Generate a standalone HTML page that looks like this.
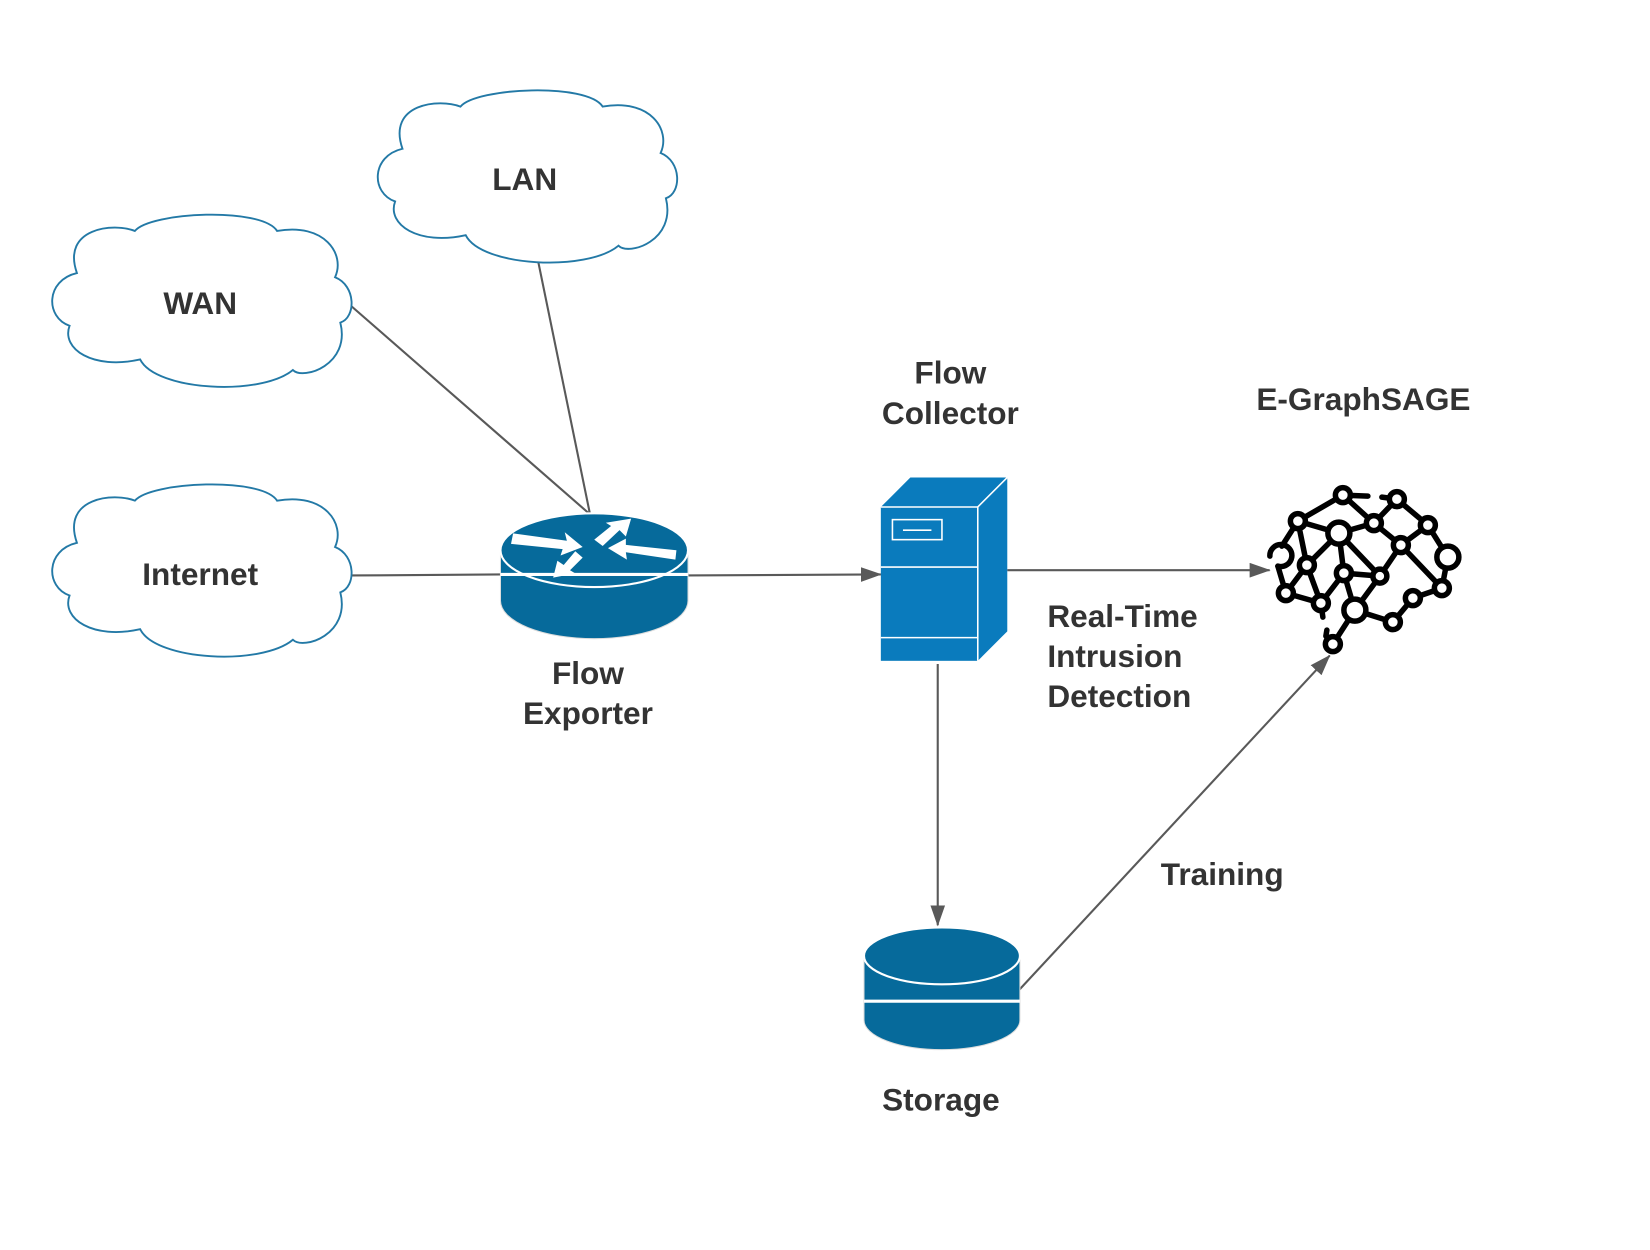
<!DOCTYPE html>
<html><head><meta charset="utf-8"><style>
html,body{margin:0;padding:0;background:#fff;}
svg{display:block;}
text{font-family:"Liberation Sans",sans-serif;font-weight:bold;fill:#333;font-size:30px;}
</style></head><body>
<svg width="1650" height="1250" viewBox="0 0 1566 1186" xmlns="http://www.w3.org/2000/svg">
<defs>
<path id="cloud" d="M25,58 C10,15 60,10 80,18 C95,0 200,-5 215,18 C260,10 280,40 270,62 C290,70 290,100 275,105 C285,145 240,160 230,150 C200,175 100,170 85,140 C40,150 10,130 18,108 C-5,100 -5,65 25,58 Z" fill="#fff" stroke="#2379a6" stroke-width="1.8"/>
<marker id="arb" markerWidth="20" markerHeight="14" refX="19" refY="7" orient="auto" markerUnits="userSpaceOnUse"><path d="M0,0 L20,7 L0,14 Z" fill="#595959"/></marker>
</defs>
<rect width="1566" height="1186" fill="#fff"/>
<g stroke="#595959" stroke-width="2" fill="none">
<line x1="333" y1="290" x2="560" y2="488"/>
<line x1="511" y1="249" x2="560" y2="488"/>
<line x1="333" y1="546" x2="475" y2="545"/>
<line x1="652" y1="546" x2="836" y2="545" marker-end="url(#arb)"/>
<line x1="956" y1="541" x2="1205" y2="541" marker-end="url(#arb)"/>
<line x1="890" y1="630" x2="890" y2="878" marker-end="url(#arb)"/>
<line x1="962" y1="945" x2="1262" y2="622" marker-end="url(#arb)"/>
</g>
<use href="#cloud" transform="translate(357,83)"/>
<use href="#cloud" transform="translate(48,201)"/>
<use href="#cloud" transform="translate(48,457)"/>
<text x="498" y="180" text-anchor="middle">LAN</text>
<text x="190" y="298" text-anchor="middle">WAN</text>
<text x="190" y="555" text-anchor="middle">Internet</text>
<g>
<path d="M475,522 L475,570 A89,36 0 0 0 653,570 L653,522 Z" fill="#066a9b" stroke="#ddd" stroke-width="1"/>
<ellipse cx="564" cy="522" rx="89" ry="35" fill="#066a9b" stroke="#fff" stroke-width="2"/>
<line x1="475" y1="545" x2="653" y2="545" stroke="#fff" stroke-width="3"/>
<g fill="#fff">
<polygon points="487,506 538,513 536,505 553,519 532,527 534,521 485,516"/>
<polygon points="564,512 580,499 575,496 599,492 594,509 588,503 572,518"/>
<polygon points="641,531 594,524 595,531 577,520 594,511 594,517 642,522"/>
<polygon points="553,529 541,541 546,544 525,548 529,532 535,536 546,523"/>
</g>
</g>
<g>
<polygon points="836,481 864,453 956,453 928,481" fill="#0a7bbd"/>
<polygon points="928,481 956,453 956,599 928,627" fill="#0a7bbd"/>
<rect x="836" y="481" width="92" height="146" fill="#0a7bbd"/>
<g stroke="#fff" stroke-width="1.5" fill="none">
<line x1="836" y1="481" x2="928" y2="481"/>
<line x1="928" y1="481" x2="956" y2="453"/>
<line x1="928" y1="481" x2="928" y2="627"/>
<line x1="836" y1="538" x2="928" y2="538"/>
<line x1="836" y1="605" x2="928" y2="605"/>
<rect x="847" y="493" width="47" height="19"/>
<line x1="857" y1="503" x2="884" y2="503"/>
</g>
</g>
<g>
<path d="M820,907 L820,968 A74,28 0 0 0 968,968 L968,907 Z" fill="#066a9b" stroke="#ddd" stroke-width="1"/>
<ellipse cx="894" cy="907" rx="74" ry="27" fill="#066a9b" stroke="#fff" stroke-width="2"/>
<line x1="820" y1="950" x2="968" y2="950" stroke="#fff" stroke-width="3"/>
</g>
<g transform="scale(0.949)" stroke="#000" stroke-width="5.5" fill="#fff" stroke-linecap="round">
<g fill="none">
<line x1="1343" y1="495" x2="1298" y2="521"/>
<line x1="1343" y1="495" x2="1368" y2="496"/>
<line x1="1382" y1="497" x2="1397" y2="499"/>
<line x1="1343" y1="495" x2="1374" y2="523"/>
<line x1="1397" y1="499" x2="1374" y2="523"/>
<line x1="1397" y1="499" x2="1428" y2="525"/>
<line x1="1298" y1="521" x2="1339" y2="533"/>
<line x1="1339" y1="533" x2="1374" y2="523"/>
<line x1="1298" y1="521" x2="1307" y2="565"/>
<line x1="1339" y1="533" x2="1307" y2="565"/>
<line x1="1339" y1="533" x2="1344" y2="573"/>
<line x1="1339" y1="533" x2="1380" y2="576"/>
<line x1="1374" y1="523" x2="1401" y2="545"/>
<line x1="1428" y1="525" x2="1401" y2="545"/>
<line x1="1428" y1="525" x2="1448" y2="557"/>
<line x1="1401" y1="545" x2="1380" y2="576"/>
<line x1="1401" y1="545" x2="1442" y2="588"/>
<line x1="1448" y1="557" x2="1442" y2="588"/>
<line x1="1298" y1="521" x2="1282" y2="546"/>
<line x1="1278" y1="566" x2="1286" y2="593"/>
<line x1="1307" y1="565" x2="1286" y2="593"/>
<line x1="1307" y1="565" x2="1321" y2="603"/>
<line x1="1344" y1="573" x2="1380" y2="576"/>
<line x1="1344" y1="573" x2="1321" y2="603"/>
<line x1="1344" y1="573" x2="1355" y2="610"/>
<line x1="1380" y1="576" x2="1355" y2="610"/>
<line x1="1355" y1="610" x2="1393" y2="622"/>
<line x1="1393" y1="622" x2="1413" y2="598"/>
<line x1="1413" y1="598" x2="1442" y2="588"/>
<line x1="1355" y1="610" x2="1333" y2="644"/>
<line x1="1286" y1="593" x2="1321" y2="603"/>
<line x1="1321" y1="603" x2="1323" y2="617"/>
<line x1="1327" y1="630" x2="1326" y2="636"/>
<path d="M1270,556 A11,11 0 1 1 1278,566"/>
</g>
<circle cx="1343" cy="495" r="7.5"/>
<circle cx="1397" cy="499" r="7.5"/>
<circle cx="1298" cy="521" r="7.5"/>
<circle cx="1339" cy="533" r="11"/>
<circle cx="1374" cy="523" r="7.5"/>
<circle cx="1428" cy="525" r="7.5"/>
<circle cx="1401" cy="545" r="7.5"/>
<circle cx="1448" cy="557" r="11"/>
<circle cx="1307" cy="565" r="7.5"/>
<circle cx="1344" cy="573" r="7.5"/>
<circle cx="1380" cy="576" r="7"/>
<circle cx="1286" cy="593" r="7.5"/>
<circle cx="1321" cy="603" r="7.5"/>
<circle cx="1355" cy="610" r="11"/>
<circle cx="1413" cy="598" r="7.5"/>
<circle cx="1442" cy="588" r="7.5"/>
<circle cx="1393" cy="622" r="7.5"/>
<circle cx="1333" cy="644" r="7.5"/>
</g>
<text x="558" y="649" text-anchor="middle">Flow</text>
<text x="558" y="687" text-anchor="middle">Exporter</text>
<text x="902" y="364" text-anchor="middle">Flow</text>
<text x="902" y="402" text-anchor="middle">Collector</text>
<text x="1294" y="389" text-anchor="middle">E-GraphSAGE</text>
<text x="994" y="595">Real-Time</text>
<text x="994" y="633">Intrusion</text>
<text x="994" y="671">Detection</text>
<text x="1160" y="840" text-anchor="middle">Training</text>
<text x="893" y="1054" text-anchor="middle">Storage</text>
</svg>
</body></html>
